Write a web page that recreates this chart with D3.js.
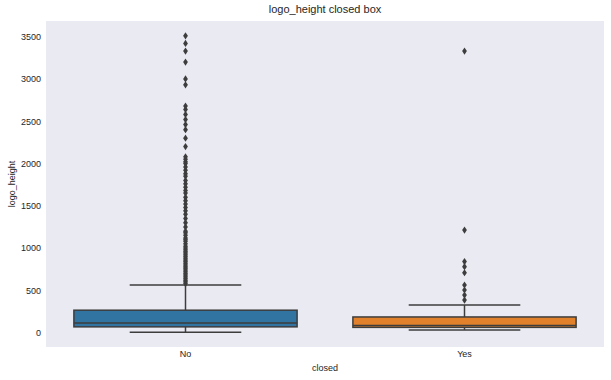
<html>
<head>
<script src="https://d3js.org/d3.v7.min.js"></script>
<style>
    body { margin: 0; background: #fff; }
    text { font-family: "Liberation Sans", Arial, sans-serif; fill: #262626; }
</style>
</head>
<body>
<svg id="chart" width="611" height="380"></svg>
<script>
// categories and box stats
const categories = ["No", "Yes"];
const colors = ["#3274a1", "#e1812c"];
const whiskerLow = [5, 32];
const q1 = [68, 62];
const median = [115, 85];
const q3 = [265, 185];
const whiskerHigh = [562, 326];

const outliersNo = [3510, 3420, 3330, 3200, 3000, 2930, 2680, 2640, 2580, 2520, 2460,
    2400, 2300, 2200, 2080, 2050, 2020, 2000, 1960, 1920, 1880, 1850, 1800, 1760,
    1720, 1680, 1650, 1600, 1560, 1520, 1480, 1440, 1400, 1350, 1300, 1250, 1200,
    1180, 1150, 1120, 1100, 1080, 1050, 1020, 1000, 980, 960, 940, 920, 900, 880,
    860, 840, 820, 800, 780, 760, 740, 720, 700, 680, 660, 640, 620, 600, 580];
const outliersYes = [3330, 1212, 840, 780, 708, 563, 504, 444, 385];
const outliers = [outliersNo, outliersYes];

const yTicks = [0, 500, 1000, 1500, 2000, 2500, 3000, 3500];

const margin = { left: 46, right: 7, top: 21, bottom: 33 };
const W = 611, H = 380;
const svg = d3.select("#chart");

const lo = d3.min(whiskerLow), hi = d3.max(outliers.flat());
const pad = (hi - lo) * 0.05;

const x = d3.scaleBand().domain(categories)
    .range([margin.left, W - margin.right]).paddingInner(0).paddingOuter(0);
const y = d3.scaleLinear().domain([lo - pad, hi + pad])
    .range([H - margin.bottom, margin.top]);

svg.append("rect")
    .attr("x", margin.left).attr("y", margin.top)
    .attr("width", W - margin.left - margin.right)
    .attr("height", H - margin.top - margin.bottom)
    .attr("fill", "#eaeaf2");

const gray = "#3d3d3d";
const bw = x.bandwidth() * 0.8;

categories.forEach((c, i) => {
    const cx = x(c) + x.bandwidth() / 2;
    const g = svg.append("g");
    // whiskers
    g.append("line").attr("x1", cx).attr("x2", cx)
        .attr("y1", y(q3[i])).attr("y2", y(whiskerHigh[i]))
        .attr("stroke", gray).attr("stroke-width", 1.5);
    g.append("line").attr("x1", cx).attr("x2", cx)
        .attr("y1", y(q1[i])).attr("y2", y(whiskerLow[i]))
        .attr("stroke", gray).attr("stroke-width", 1.5);
    [whiskerHigh[i], whiskerLow[i]].forEach(v => {
        g.append("line").attr("x1", cx - bw / 4).attr("x2", cx + bw / 4)
            .attr("y1", y(v)).attr("y2", y(v))
            .attr("stroke", gray).attr("stroke-width", 1.5);
    });
    // box
    g.append("rect").attr("x", cx - bw / 2).attr("width", bw)
        .attr("y", y(q3[i])).attr("height", y(q1[i]) - y(q3[i]))
        .attr("fill", colors[i]).attr("stroke", gray).attr("stroke-width", 1.5);
    g.append("line").attr("x1", cx - bw / 2).attr("x2", cx + bw / 2)
        .attr("y1", y(median[i])).attr("y2", y(median[i]))
        .attr("stroke", gray).attr("stroke-width", 1.5);
    // fliers (thin diamonds)
    g.selectAll("path.flier").data(outliers[i]).join("path")
        .attr("class", "flier")
        .attr("d", v => `M${cx},${y(v) - 3.6}L${cx + 2.4},${y(v)}L${cx},${y(v) + 3.6}L${cx - 2.4},${y(v)}Z`)
        .attr("fill", gray);
});

// axes (no tick marks, seaborn dark style)
const yAxis = svg.append("g").attr("transform", `translate(${margin.left},0)`)
    .call(d3.axisLeft(y).tickValues(yTicks).tickFormat(d3.format("d")).tickSize(0).tickPadding(5));
yAxis.select(".domain").remove();
yAxis.selectAll("text").style("font-size", "9px").attr("fill", "#262626");

const xAxis = svg.append("g").attr("transform", `translate(0,${H - margin.bottom})`)
    .call(d3.axisBottom(x).tickSize(0).tickPadding(4));
xAxis.select(".domain").remove();
xAxis.selectAll("text").style("font-size", "9px").attr("fill", "#262626");

svg.append("text").attr("x", (margin.left + W - margin.right) / 2).attr("y", 13)
    .attr("text-anchor", "middle").style("font-size", "11px")
    .text("logo_height closed box");

svg.append("text").attr("x", (margin.left + W - margin.right) / 2).attr("y", 371)
    .attr("text-anchor", "middle").style("font-size", "9px").text("closed");

svg.append("text")
    .attr("transform", `translate(15,${(margin.top + H - margin.bottom) / 2}) rotate(-90)`)
    .attr("text-anchor", "middle").style("font-size", "9px").text("logo_height");
</script>
</body>
</html>
